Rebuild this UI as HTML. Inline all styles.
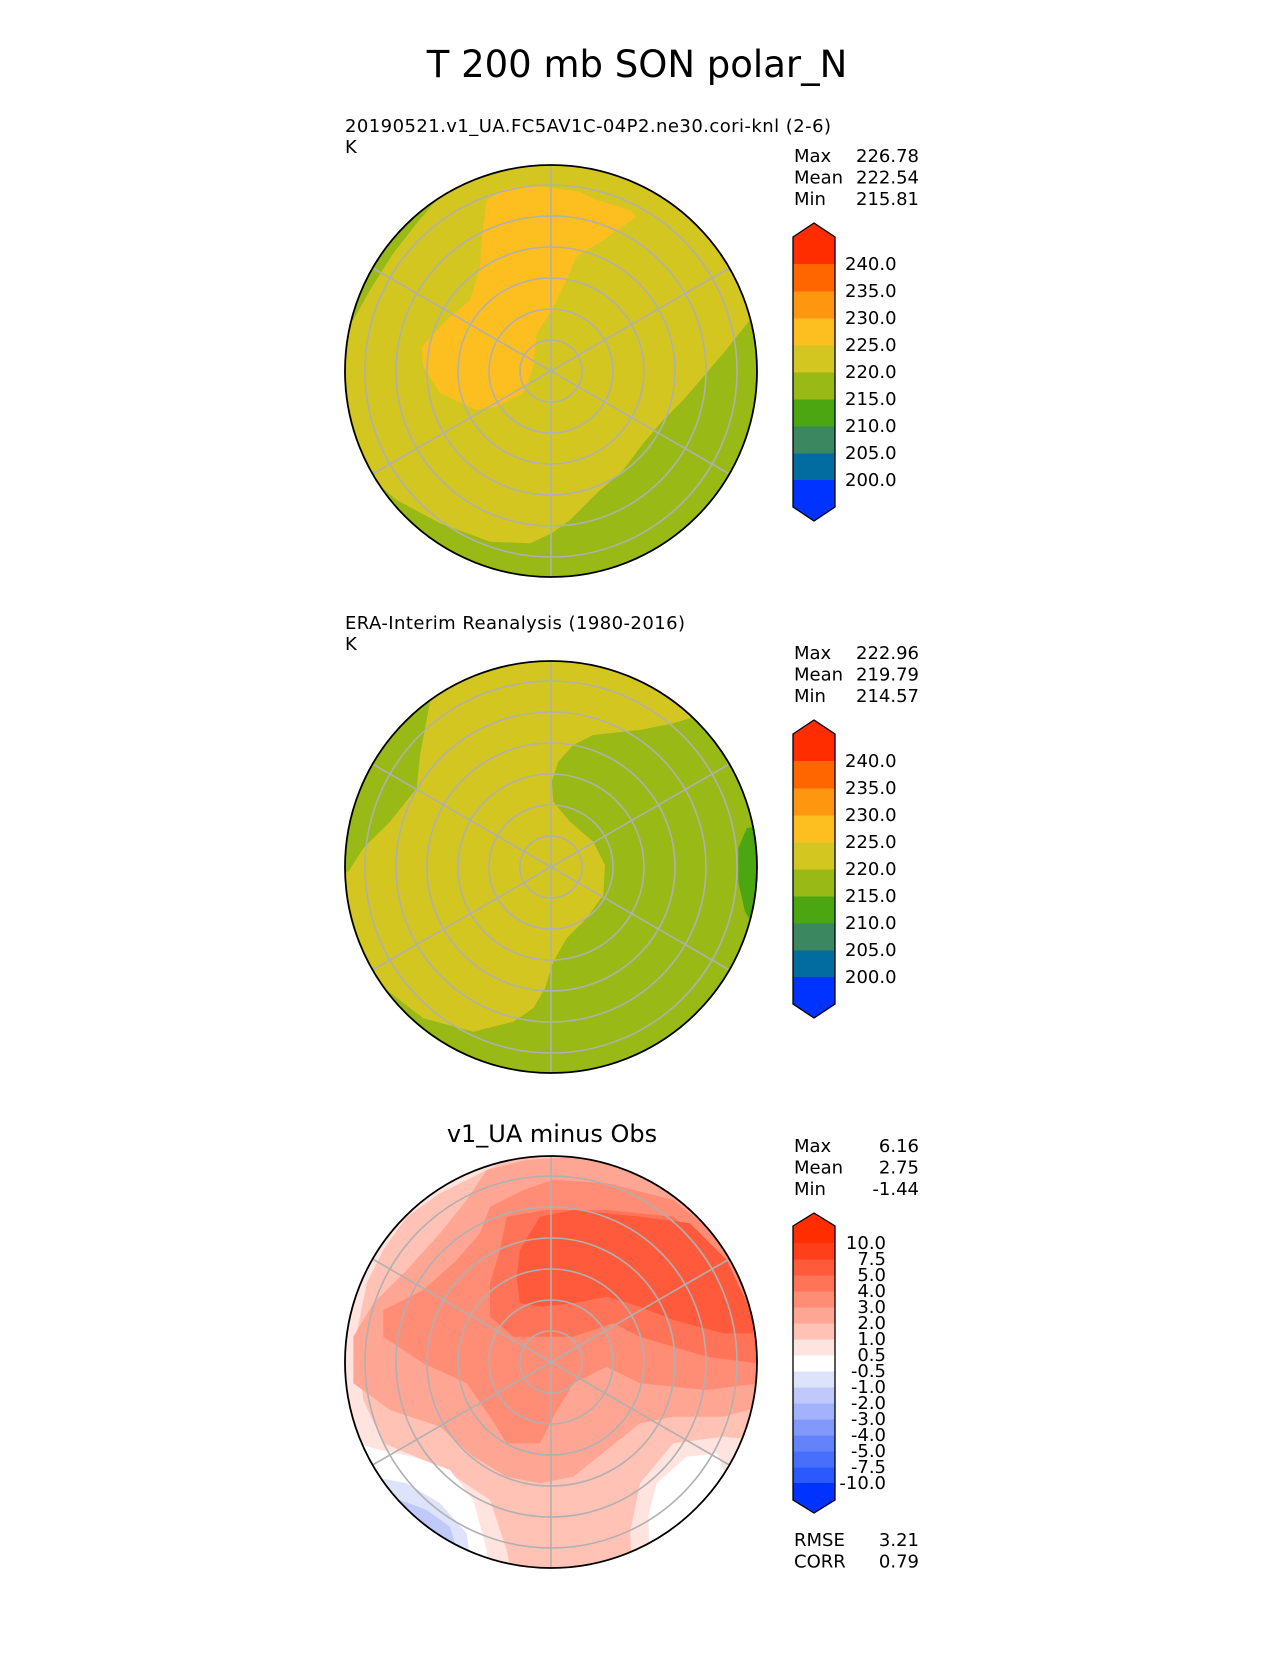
<!DOCTYPE html>
<html><head><meta charset="utf-8"><style>
html,body{margin:0;padding:0;background:#fff}
svg text{font-family:"DejaVu Sans","Liberation Sans",sans-serif;fill:#000}
</style></head><body>
<svg id="fig" xmlns="http://www.w3.org/2000/svg" width="1275" height="1650" viewBox="0 0 1275 1650">
<rect width="1275" height="1650" fill="#fff"/>
<text x="637" y="77" font-size="37" text-anchor="middle">T 200 mb SON polar_N</text>
<g id="root"></g>
</svg>
<script>
// ---- data ----
const absLevels = [200, 205, 210, 215, 220, 225, 230, 235, 240];
const absColors = ["#0033ff","#026ca0","#3a8760","#4ca612","#98b916","#d3c620","#fdbe20","#ff960f","#ff6600","#ff2d00"];
const absLabels = ["200.0","205.0","210.0","215.0","220.0","225.0","230.0","235.0","240.0"];
const diffLevels = [-10,-7.5,-5,-4,-3,-2,-1,-0.5,0.5,1,2,3,4,5,7.5,10];
const diffColors = ["#0033ff","#2a5afb","#4670fb","#6383fb","#8099fb","#a3b3fb","#bfcafb","#dde3fb","#ffffff","#ffe3de","#ffc2b5","#ffa593","#ff8c75","#ff7359","#ff5a3c","#ff3e1a","#ff2d00"];
const diffLabels = ["-10.0","-7.5","-5.0","-4.0","-3.0","-2.0","-1.0","-0.5","0.5","1.0","2.0","3.0","4.0","5.0","7.5","10.0"];
const statNames = ["Max","Mean","Min"];
const testStats = ["226.78","222.54","215.81"];
const refStats = ["222.96","219.79","214.57"];
const diffStats = ["6.16","2.75","-1.44"];
const metricNames = ["RMSE","CORR"];
const metricValues = ["3.21","0.79"];

const NS = "http://www.w3.org/2000/svg";
const root = document.getElementById('root');
function mk(tag, attrs, parent) {
  const e = document.createElementNS(NS, tag);
  for (const k in attrs) e.setAttribute(k, attrs[k]);
  (parent || root).appendChild(e);
  return e;
}
function txt(s, x, y, size, anchor, name, parent) {
  const t = mk('text', {x: x, y: y, 'font-size': size, 'text-anchor': anchor || 'start'}, parent);
  t.textContent = s;
  
  
  return t;
}
function poly(pts, ox, oy) {
  return pts.map(p => (p[0] / 3 + ox).toFixed(1) + ',' + (p[1] / 3 + oy).toFixed(1)).join(' ');
}

// ---- map panel ----
function mapPanel(id, cx, cy, r, base, layers, zx, zy) {
  const g = mk('g', {});
  
  
  const clip = mk('clipPath', {id: id + '-clip'}, g);
  mk('circle', {cx: cx, cy: cy, r: r}, clip);
  const inner = mk('g', {'clip-path': 'url(#' + id + '-clip)'}, g);
  mk('circle', {cx: cx, cy: cy, r: r, fill: base}, inner);
  layers.forEach((L, i) => {
    const p = mk('polygon', {points: poly(L.pts, zx, zy), fill: L.c}, inner);
    
    
  });
  const grid = mk('g', {stroke: '#b0b0b0', 'stroke-width': 1.6, fill: 'none'}, inner);
  
  
  for (let k = 1; k <= 6; k++) mk('circle', {cx: cx, cy: cy, r: 31 * k}, grid);
  [90, 30, 150].forEach(a => {
    const rad = a * Math.PI / 180, dx = Math.cos(rad) * r, dy = Math.sin(rad) * r;
    mk('line', {x1: cx - dx, y1: cy - dy, x2: cx + dx, y2: cy + dy}, grid);
  });
  const b = mk('circle', {cx: cx, cy: cy, r: r, fill: 'none', stroke: '#000', 'stroke-width': 1.8}, g);
  
  
}

// ---- colorbar ----
function colorbar(id, x, tipTop, shTop, firstB, cell, levels, colors, labels, labelMode) {
  const g = mk('g', {});
  
  
  const w = 42, n = levels.length - 1;
  const ext = firstB - shTop, tipH = shTop - tipTop;
  const yOf = v => firstB + (n - levels.indexOf(v)) * cell;
  const bottomB = yOf(levels[0]);
  mk('polygon', {points: `${x},${firstB} ${x},${shTop} ${x + w / 2},${tipTop} ${x + w},${shTop} ${x + w},${firstB}`, fill: colors[colors.length - 1]}, g);
  for (let i = 0; i < n; i++) {
    const yTop = yOf(levels[i + 1]);
    const rc = mk('rect', {x: x, y: yTop, width: w, height: yOf(levels[i]) - yTop + 0.5, fill: colors[i + 1]}, g);
    
    
  }
  mk('polygon', {points: `${x},${bottomB} ${x},${bottomB + ext} ${x + w / 2},${bottomB + ext + tipH} ${x + w},${bottomB + ext} ${x + w},${bottomB}`, fill: colors[0]}, g);
  mk('polygon', {points: `${x},${shTop} ${x + w / 2},${tipTop} ${x + w},${shTop} ${x + w},${bottomB + ext} ${x + w / 2},${bottomB + ext + tipH} ${x},${bottomB + ext}`, fill: 'none', stroke: '#000', 'stroke-width': 1.3}, g);
  levels.forEach((v, i) => {
    const y = yOf(v) + 6;
    if (labelMode === 'left') txt(labels[i], x + 52, y, 18, 'start', id + '-colorbar-tick-label', g);
    else txt(labels[i], x + 93, y, 18, 'end', id + '-colorbar-tick-label', g);
  });
}
function stats(id, y0, values) {
  statNames.forEach((s, i) => {
    txt(s, 794, y0 + i * 21.5, 18, 'start', id + '-stat-name');
    txt(values[i], 919, y0 + i * 21.5, 18, 'end', id + '-stat-value');
  });
}

// ---- panel 1 (test) ----
const p1Layers = [
  {c: "#98b916", pts: [[1400,600],[1260,660],[1180,760],[1120,830],[1060,900],[1000,960],[940,1030],[880,1110],[800,1180],[720,1260],[665,1300],[600,1330],[480,1325],[330,1270],[200,1200],[130,1140],[-100,1200],[-100,1600],[1400,1600]]},
  {c: "#98b916", pts: [[-100,640],[70,660],[120,570],[190,460],[260,370],[320,300],[280,-100],[-100,-100]]},
  {c: "#fdbe20", pts: [[530,265],[600,255],[750,275],[800,300],[900,330],[920,350],[820,420],[740,470],[700,560],[660,640],[620,700],[610,800],[580,880],[500,920],[440,930],[330,880],[280,800],[275,740],[350,660],[420,600],[450,500],[455,420],[470,300]]}
];
mapPanel('test', 551, 371, 206, "#d3c620", p1Layers, 330, 100);
txt("20190521.v1_UA.FC5AV1C-04P2.ne30.cori-knl (2-6)", 345, 132, 18, 'start', 'test-subtitle').setAttribute('textLength', '486');
txt("K", 345, 153, 18, 'start', 'test-units');
stats('test', 162, testStats);
colorbar('test', 793, 223, 237, 264, 27, absLevels, absColors, absLabels, 'left');

// ---- panel 2 (reference) ----
const p2Layers = [
  {c: "#d3c620", pts: [[270,140],[270,-100],[1100,-100],[1050,190],[1000,205],[900,225],[760,240],[700,270],[655,320],[635,380],[640,440],[690,500],[760,560],[795,630],[790,720],[740,790],[680,850],[640,920],[615,1000],[580,1060],[520,1100],[400,1130],[250,1090],[120,990],[-100,990],[-100,650],[25,650],[70,580],[150,500],[230,400],[240,300]]},
  {c: "#4ca612", pts: [[1260,510],[1220,520],[1195,580],[1195,680],[1215,770],[1240,810],[1300,810],[1300,510]]}
];
mapPanel('ref', 551, 867, 206, "#98b916", p2Layers, 340, 655);
txt("ERA-Interim Reanalysis (1980-2016)", 345, 629, 18, 'start', 'ref-subtitle').setAttribute('textLength', '340');
txt("K", 345, 650, 18, 'start', 'ref-units');
stats('ref', 659, refStats);
colorbar('ref', 793, 720, 734, 761, 27, absLevels, absColors, absLabels, 'left');

// ---- panel 3 (difference) ----
const p3Layers = [
  {c: "#ffe3de", pts: [[-50,-50],[520,-50],[480,40],[400,80],[300,130],[200,200],[130,300],[80,400],[50,550],[70,750],[130,880],[300,950],[450,1050],[500,1200],[520,1300],[-50,1300]]},
  {c: "#ffe3de", pts: [[880,1300],[870,1150],[900,1000],[1000,880],[1150,860],[1350,880],[1350,1300]]},
  {c: "#ffffff", pts: [[-50,-50],[420,-50],[380,60],[280,110],[180,180],[110,300],[60,380],[-50,400]]},
  {c: "#ffffff", pts: [[-50,850],[120,900],[220,920],[330,960],[400,1050],[440,1200],[450,1300],[-50,1300]]},
  {c: "#ffffff", pts: [[930,1300],[925,1100],[950,1000],[1040,920],[1130,910],[1160,980],[1100,1080],[1000,1180],[980,1300]]},
  {c: "#dde3fb", pts: [[-50,980],[100,980],[200,1000],[300,1060],[380,1150],[400,1300],[-50,1300]]},
  {c: "#bfcafb", pts: [[-50,1040],[180,1050],[260,1080],[330,1130],[350,1200],[340,1300],[-50,1300]]},
  {c: "#ffa593", pts: [[440,60],[560,30],[700,20],[900,60],[1000,120],[1300,300],[1300,760],[1150,800],[1000,800],[900,820],[800,900],[700,980],[600,1000],[500,980],[400,920],[300,830],[150,780],[40,700],[40,560],[100,460],[200,360],[300,250],[380,150]]},
  {c: "#ff8c75", pts: [[450,170],[550,120],[640,90],[800,100],[1000,150],[1150,270],[1260,450],[1260,700],[1100,720],[900,700],[800,650],[700,700],[640,800],[600,880],[500,880],[450,800],[380,700],[250,640],[130,560],[130,480],[250,420],[350,330],[420,250]]},
  {c: "#ff7359", pts: [[500,200],[620,180],[800,180],[1000,200],[1150,330],[1250,500],[1250,640],[1100,620],[900,560],[820,520],[700,560],[600,560],[520,560],[450,500],[450,400],[480,300]]},
  {c: "#ff5a3c", pts: [[540,300],[600,200],[700,180],[900,200],[1050,220],[1160,330],[1240,500],[1240,550],[1150,550],[1000,510],[900,470],[800,440],[700,460],[600,470],[540,460],[530,380]]}
];
mapPanel('diff', 551, 1362, 206, "#ffc2b5", p3Layers, 340, 1150);
txt("v1_UA minus Obs", 552, 1142, 24, 'middle', 'diff-title');
stats('diff', 1152, diffStats);
colorbar('diff', 793, 1213, 1226, 1243, 16, diffLevels, diffColors, diffLabels, 'right');
metricNames.forEach((m, i) => {
  txt(m, 794, 1546 + i * 21.5, 18, 'start', 'diff-metric-name');
  txt(metricValues[i], 919, 1546 + i * 21.5, 18, 'end', 'diff-metric-value');
});
</script>
</body></html>
